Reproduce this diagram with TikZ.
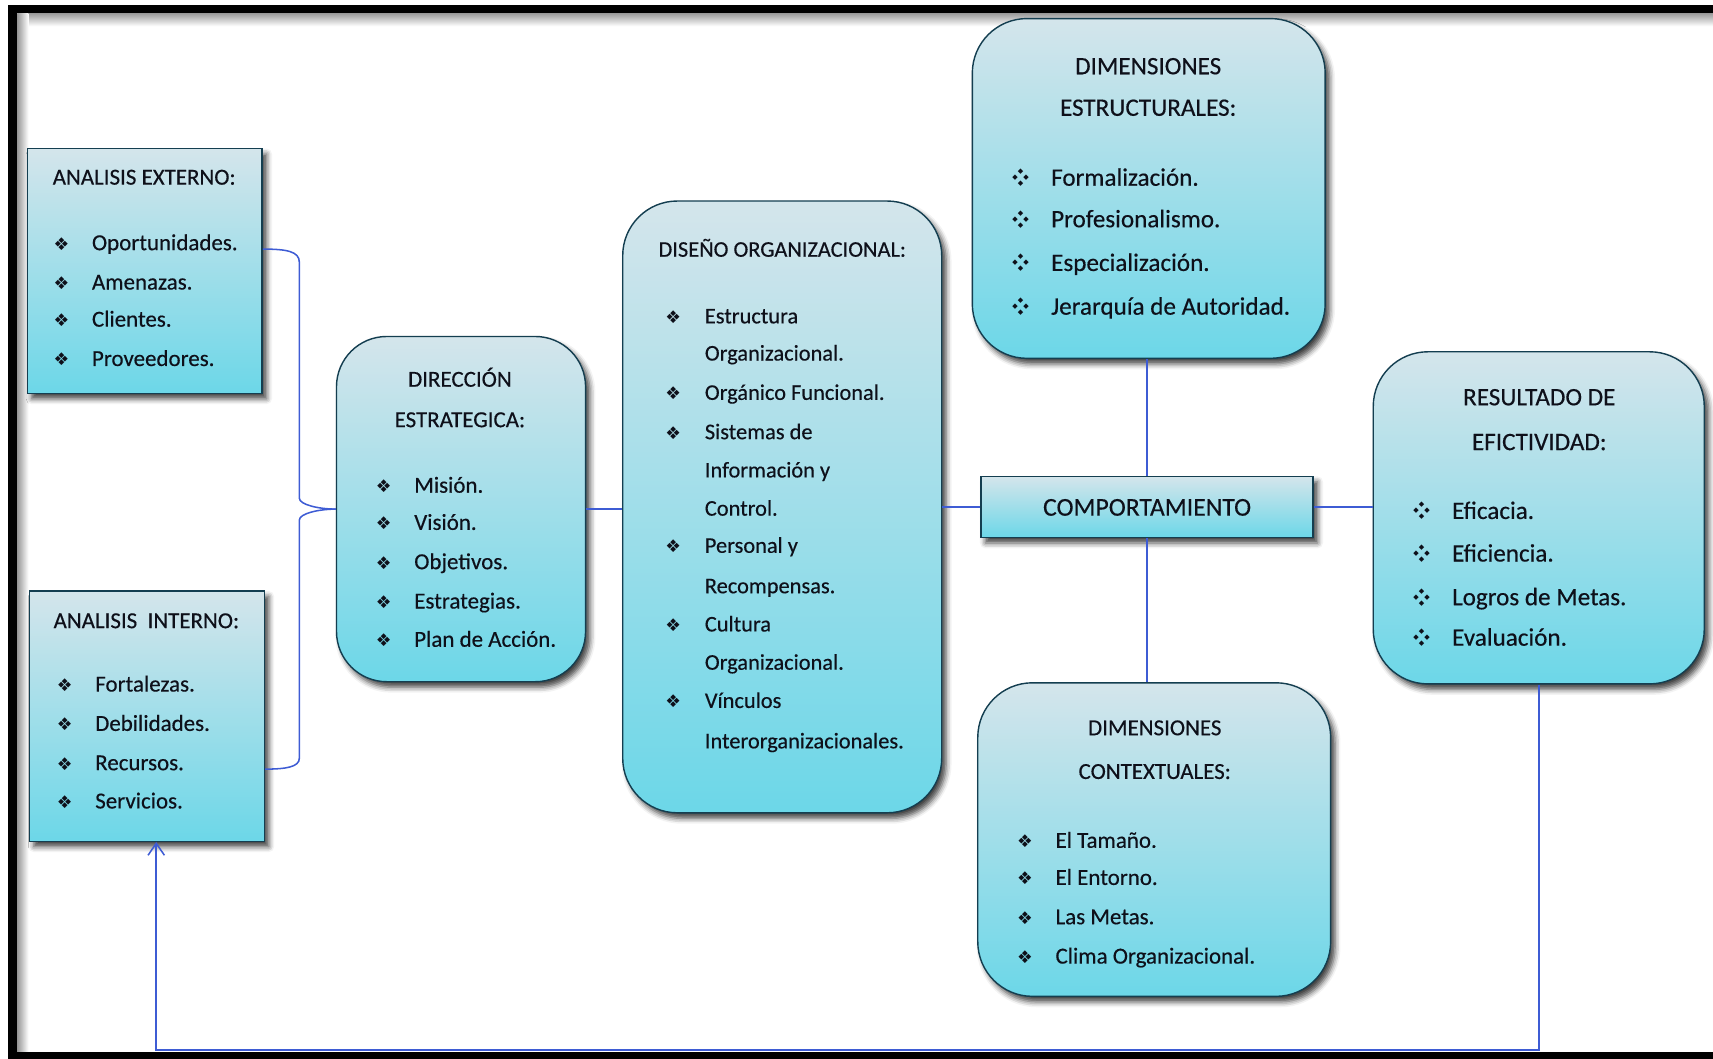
\documentclass[tikz,border=0pt]{standalone}
\usepackage{fontspec}
\setmainfont{Carlito}[FakeBold=0.35]
\newfontfamily\symfont{DejaVu Sans}
\usetikzlibrary{shadows.blur,arrows.meta,calc}

\definecolor{boxtop}{RGB}{212,229,235}
\definecolor{boxbot}{RGB}{108,215,232}
\definecolor{boxline}{RGB}{20,62,80}
\definecolor{linkblue}{RGB}{62,92,212}
\definecolor{txt}{RGB}{14,16,26}

% bullets: a four-petal dingbat, and four separate small diamonds
\newcommand\bulA{{\symfont\fontsize{16}{16}\selectfont ❖}}
\newcommand\petal[2]{\rlap{\hspace*{#1}\makebox[0pt]{\raisebox{#2}{◆}}}}
\newcommand\bulB{{\symfont\fontsize{6.5}{6.5}\selectfont
  \petal{0pt}{11pt}\petal{0pt}{0pt}\petal{-5pt}{5.5pt}\petal{5pt}{5.5pt}}}

\begin{document}
\begin{tikzpicture}[x=1pt,y=-1pt,
  box/.style={draw=boxline, line width=1.3pt, top color=boxtop, bottom color=boxbot,
    blur shadow={shadow xshift=4pt, shadow yshift=-5pt, shadow opacity=75, shadow blur radius=5pt},
    inner sep=0pt},
  rbox/.style={box, rounded corners=46pt},
  link/.style={draw=linkblue, line width=1.4pt},
  title/.style={anchor=base, inner sep=0pt, text=txt},
  item/.style={anchor=base west, inner sep=0pt, text=txt},
  fa/.style={font=\fontsize{21}{25}\selectfont},
  fb/.style={font=\fontsize{20.5}{24}\selectfont},
  fc/.style={font=\fontsize{23}{27}\selectfont},
  fd/.style={font=\fontsize{21}{25}\selectfont},
  fe/.style={font=\fontsize{23.5}{27}\selectfont},
]
\useasboundingbox (0,0) rectangle (1568,969);

% page frame
\shade[top color=black!40, bottom color=white] (16,12) rectangle (1568,24);
\shade[left color=black!40, right color=white] (16,12) rectangle (26,963);
\fill[black] (7,5) rectangle (1568,12);
\fill[black] (7,5) rectangle (16,969);
\fill[black] (7,963) rectangle (1568,969);

% boxes
\node[box, minimum width=215pt, minimum height=224pt] (AE) at (132.5,248) {};
\node[box, minimum width=215pt, minimum height=229pt] (AI) at (134.5,655.5) {};
\node[rbox, minimum width=228pt, minimum height=316pt] (DE) at (422,466) {};
\node[rbox, rounded corners=50pt, minimum width=292pt, minimum height=560pt] (DO) at (716,464) {};
\node[rbox, rounded corners=50pt, minimum width=323pt, minimum height=311pt] (DS) at (1051.5,172.5) {};
\node[box, minimum width=304pt, minimum height=56pt] (CO) at (1050,464) {};
\node[rbox, rounded corners=50pt, minimum width=303pt, minimum height=304pt] (RE) at (1408.5,474) {};
\node[rbox, rounded corners=50pt, minimum width=323pt, minimum height=287pt] (DC) at (1056.5,768.5) {};

% texts: ANALISIS EXTERNO
\node[title, fa] (AEt) at (132,169) {ANALISIS EXTERNO:};
\foreach \y/\t [count=\i] in {222/Oportunidades., 258/Amenazas., 292/Clientes., 328/Proveedores.}
  \node[item, fa] (AE-\i) at (56,\y+7) {\makebox[0pt]{\bulA}\hspace{28pt}\t};

% ANALISIS INTERNO
\node[title, fa] (AIt) at (134,575) {ANALISIS\ \ INTERNO:};
\foreach \y/\t [count=\i] in {626/Fortalezas., 662/Debilidades., 698/Recursos., 733/Servicios.}
  \node[item, fa] (AI-\i) at (59,\y+7) {\makebox[0pt]{\bulA}\hspace{28pt}\t};

% DIRECCION ESTRATEGICA
\node[title, fa] (DEt1) at (421,354) {DIRECCIÓN};
\node[title, fa] (DEt2) at (421,391) {ESTRATEGICA:};
\foreach \y/\t [count=\i] in {444/Misión., 478/Visión., 514/Objetivos., 550/Estrategias., 585/Plan de Acción.}
  \node[item, fa] (DE-\i) at (351,\y+7) {\makebox[0pt]{\bulA}\hspace{28pt}\t};

% DISENO ORGANIZACIONAL
\node[title, fb] (DOt) at (716,235) {DISEÑO ORGANIZACIONAL:};
\foreach \y/\b/\t [count=\i] in {289/1/Estructura, 323/0/Organizacional., 359/1/Orgánico Funcional.,
    395/1/Sistemas de, 430/0/Información y, 465/0/Control., 499/1/Personal y,
    536/0/Recompensas., 571/1/Cultura, 606/0/Organizacional., 641/1/Vínculos,
    678/0/Interorganizacionales.}
  \node[item, fb] (DO-\i) at (616,\y+7) {\makebox[0pt]{\ifnum\b=1 \bulA\fi}\hspace{29pt}\t};

% DIMENSIONES ESTRUCTURALES
\node[title, fc] (DSt1) at (1051,68) {DIMENSIONES};
\node[title, fc] (DSt2) at (1051,106) {ESTRUCTURALES:};
\foreach \y/\t [count=\i] in {162/Formalización., 200/Profesionalismo., 240/Especialización., 280/Jerarquía de Autoridad.}
  \node[item, fc] (DS-\i) at (934,\y+8) {\makebox[0pt]{\bulB}\hspace{28pt}\t};

% COMPORTAMIENTO
\node[title, fe] (COt) at (1050,472) {COMPORTAMIENTO};

% RESULTADO DE EFICTIVIDAD
\node[title, fc] (REt1) at (1409,371) {RESULTADO DE};
\node[title, fc] (REt2) at (1409,412) {EFICTIVIDAD:};
\foreach \y/\t [count=\i] in {467/Eficacia., 506/Eficiencia., 546/Logros de Metas., 583/Evaluación.}
  \node[item, fc] (RE-\i) at (1301,\y+8) {\makebox[0pt]{\bulB}\hspace{28pt}\t};

% DIMENSIONES CONTEXTUALES
\node[title, fd] (DCt1) at (1057,673) {DIMENSIONES};
\node[title, fd] (DCt2) at (1057,713) {CONTEXTUALES:};
\foreach \y/\t [count=\i] in {769/El Tamaño., 803/El Entorno., 839/Las Metas., 875/Clima Organizacional.}
  \node[item, fd] (DC-\i) at (938,\y+7) {\makebox[0pt]{\bulA}\hspace{28pt}\t};

% connectors
\coordinate (ya) at (0,228);
\coordinate (yb) at (0,704);
\coordinate (fb) at (143,961);
\draw[link] (AE.east |- ya) .. controls (262,228) and (274,230) .. (274,240) -- (274,456)
  .. controls (274,462) and (292,466) .. (DE.west);
\draw[link] (DE.west) .. controls (292,466) and (274,470) .. (274,476) -- (274,694)
  .. controls (274,702) and (262,704) .. (AI.east |- yb);
\draw[link] (DE.east) -- (DE.east -| DO.west);
\draw[link] (DO.east) -- (DO.east -| CO.west);
\draw[link] (CO.north) -- (CO.north |- DS.south);
\draw[link] (CO.south) -- (CO.south |- DC.north);
\draw[link] (CO.east) -- (CO.east -| RE.west);
\draw[link, -{Straight Barb[length=11pt,width=15pt,line width=1.4pt]}]
  (RE.south) |- (fb) -- (fb |- AI.south);
\end{tikzpicture}
\end{document}
